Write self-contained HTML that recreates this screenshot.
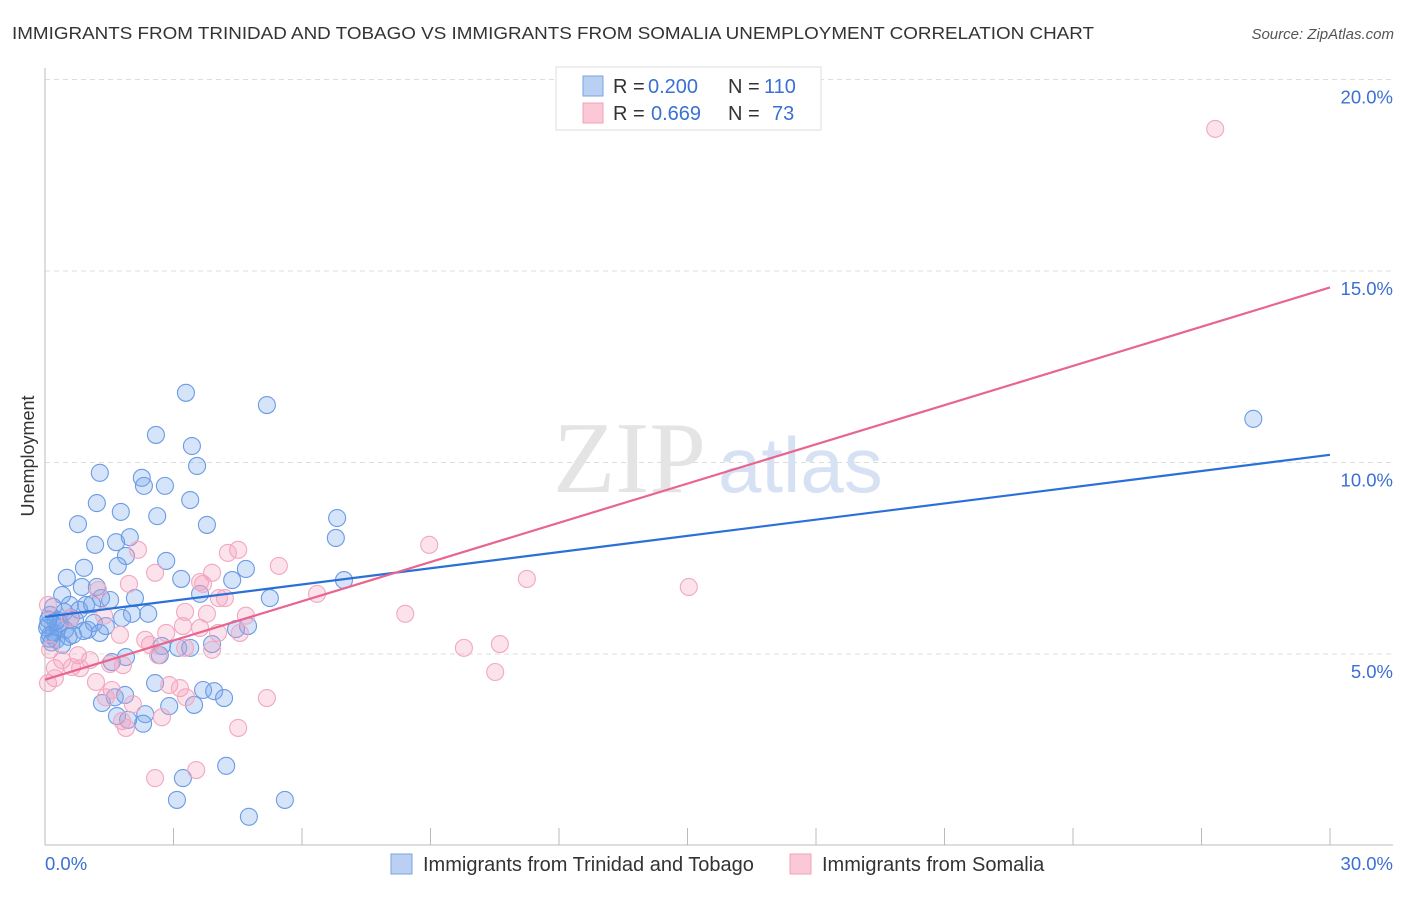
<!DOCTYPE html>
<html><head><meta charset="utf-8"><style>
body{margin:0;background:#fff;font-family:"Liberation Sans",sans-serif;}
</style></head><body>
<svg width="1406" height="892" xmlns="http://www.w3.org/2000/svg" font-family="Liberation Sans, sans-serif">
<text x="12" y="39" font-size="17.5" fill="#333" textLength="1082" lengthAdjust="spacingAndGlyphs">IMMIGRANTS FROM TRINIDAD AND TOBAGO VS IMMIGRANTS FROM SOMALIA UNEMPLOYMENT CORRELATION CHART</text>
<text x="1394" y="39" font-size="15" fill="#555" font-style="italic" text-anchor="end">Source: ZipAtlas.com</text>
<g id="grid"></g>
<text x="553" y="492" font-size="102" fill="#e4e4e4" font-family="Liberation Serif, serif">ZIP</text>
<text x="718" y="492" font-size="78" fill="#d6e2f4">atlas</text>
<text transform="translate(34,456) rotate(-90)" font-size="18" fill="#333" text-anchor="middle">Unemployment</text>
<g id="pts"></g>
<g id="lines"></g>
<g>
<rect x="556" y="67" width="265" height="63" fill="#fff" stroke="#ddd"/>
<rect x="583" y="76" width="20" height="20" fill="#b9d0f3" stroke="#7aa3e6"/>
<rect x="583" y="103" width="20" height="20" fill="#fac8d7" stroke="#f0a0b8"/>
<text x="613" y="93" font-size="20" fill="#333">R =</text>
<text x="648" y="93" font-size="20" fill="#3b6fd4">0.200</text>
<text x="728" y="93" font-size="20" fill="#333">N =</text>
<text x="764" y="93" font-size="20" fill="#3b6fd4">110</text>
<text x="613" y="120" font-size="20" fill="#333">R =</text>
<text x="651" y="120" font-size="20" fill="#3b6fd4">0.669</text>
<text x="728" y="120" font-size="20" fill="#333">N =</text>
<text x="772" y="120" font-size="20" fill="#3b6fd4">73</text>
</g>
<g>
<rect x="391" y="854" width="21" height="20" fill="#b9d0f3" stroke="#7aa3e6"/>
<text x="423" y="871" font-size="20" fill="#333">Immigrants from Trinidad and Tobago</text>
<rect x="790" y="854" width="21" height="20" fill="#fac8d7" stroke="#f0a0b8"/>
<text x="822" y="871" font-size="20" fill="#333">Immigrants from Somalia</text>
</g>
</svg>
<script>
const xTickLabels=["0.0%","30.0%"];
const yTicks=[5,10,15,20];
const blueX=[3.29,5.18,2.59,3.43,3.55,1.28,2.26,2.31,2.80,1.21,3.39,1.77,2.62,0.77,3.78,6.82,6.79,1.17,1.66,1.98,1.89,2.83,0.91,1.70,4.69,0.51,3.18,4.37,6.98,1.21,0.86,0.40,1.31,2.10,3.62,5.25,0.19,0.58,0.96,1.52,2.03,2.41,0.30,0.70,1.14,1.42,1.80,0.47,1.00,0.12,0.26,0.07,0.40,1.28,4.46,4.74,2.73,3.11,3.39,3.90,2.68,1.89,1.56,2.57,1.33,1.63,1.87,3.69,3.95,4.18,3.48,2.90,1.68,2.34,1.94,2.29,4.23,3.22,3.08,4.76,5.60,28.21,0.12,0.05,0.20,0.35,0.10,0.60,0.80,0.15,0.30,0.45,0.25,0.55,0.08,0.90,1.10,0.65];
const blueY=[11.82,11.50,10.72,10.43,9.91,9.73,9.60,9.39,9.39,8.94,9.02,8.71,8.60,8.39,8.37,8.55,8.03,7.85,7.92,8.05,7.56,7.43,7.25,7.30,7.22,6.99,6.96,6.93,6.93,6.75,6.75,6.54,6.46,6.46,6.57,6.46,6.23,6.28,6.28,6.41,6.05,6.05,5.89,5.89,5.81,5.73,5.94,5.63,5.63,5.50,5.37,5.76,5.24,5.55,5.65,5.73,5.21,5.16,5.16,5.26,4.97,4.92,4.79,4.24,3.72,3.87,3.93,4.06,4.03,3.85,3.67,3.64,3.38,3.43,3.28,3.18,2.08,1.76,1.19,0.75,1.19,11.14,6.02,5.68,5.55,5.80,5.40,5.95,6.15,5.30,5.70,6.10,5.85,5.45,5.90,5.60,6.30,5.50];
const pinkX=[27.32,4.51,4.27,2.17,8.97,5.46,2.57,3.90,1.96,3.62,3.69,11.25,15.03,6.35,4.06,4.20,1.24,8.41,3.27,3.78,4.69,0.07,0.58,1.38,3.22,3.62,1.75,2.34,2.83,4.04,4.55,10.62,9.78,2.45,3.27,3.90,2.64,0.77,0.40,1.05,1.52,1.82,0.23,0.63,0.82,10.51,0.23,0.07,1.19,1.56,2.90,3.15,1.42,3.29,5.18,2.05,2.73,1.80,1.89,4.51,2.57,3.53,0.12];
const pinkY=[18.71,7.72,7.64,7.72,7.85,7.30,7.12,7.12,6.83,6.88,6.83,6.96,6.75,6.57,6.46,6.46,6.67,6.05,6.10,6.05,6.00,6.28,5.94,6.00,5.73,5.68,5.50,5.37,5.55,5.55,5.55,5.26,5.16,5.24,5.16,5.11,4.97,4.97,4.84,4.84,4.74,4.71,4.63,4.66,4.63,4.53,4.37,4.24,4.27,4.06,4.19,4.11,3.87,3.87,3.85,3.69,3.35,3.25,3.07,3.07,1.76,1.97,5.11];
const blueTrend=[5.97,10.20];
const pinkTrend=[4.33,14.57];
const NS="http://www.w3.org/2000/svg";
const X0=45,X1=1330,Y0=845.5,PY=38.3;
function sx(v){return X0+v/30*(X1-X0);}
function sy(v){return Y0-v*PY;}
function mk(t,a,p){const e=document.createElementNS(NS,t);for(const k in a)e.setAttribute(k,a[k]);p.appendChild(e);return e;}
const grid=document.getElementById('grid');
yTicks.forEach(t=>{
  const l=mk('line',{x1:45,x2:1393,y1:sy(t),y2:sy(t),stroke:'#ddd','stroke-dasharray':'5,4'},grid);
  
  
  const tx=mk('text',{x:1393,y:sy(t)+24,'font-size':18.5,fill:'#3b6fd4','text-anchor':'end'},grid);
  tx.textContent=t.toFixed(1)+'%';
  
  
});
const ax=mk('line',{x1:45,x2:45,y1:68,y2:845,stroke:'#bbb'},grid);


const bx=mk('line',{x1:45,x2:1393,y1:845,y2:845,stroke:'#bbb'},grid);


for(let i=0;i<=10;i++){const t=mk('line',{x1:sx(i*3),x2:sx(i*3),y1:828,y2:845,stroke:'#bbb'},grid);

}
[[0,'start',45],[30,'end',1393]].forEach((d,i)=>{const t=mk('text',{x:d[2],y:870,'font-size':18.5,fill:'#3b6fd4','text-anchor':d[1]},grid);t.textContent=xTickLabels[i];

});
const pts=document.getElementById('pts');
blueX.forEach((v,i)=>{const c=mk('circle',{cx:sx(v),cy:sy(blueY[i]),r:8.5,fill:'rgba(120,165,235,0.3)',stroke:'#6a9be5','stroke-width':1.1},pts);

});
pinkX.forEach((v,i)=>{const c=mk('circle',{cx:sx(v),cy:sy(pinkY[i]),r:8.5,fill:'rgba(245,160,190,0.3)',stroke:'#f2a8bf','stroke-width':1.1},pts);

});
const lines=document.getElementById('lines');
const bl=mk('line',{x1:sx(0),y1:sy(blueTrend[0]),x2:sx(30),y2:sy(blueTrend[1]),stroke:'#2b6fd8','stroke-width':2.2},lines);


const pl=mk('line',{x1:sx(0),y1:sy(pinkTrend[0]),x2:sx(30),y2:sy(pinkTrend[1]),stroke:'#e8658f','stroke-width':2.2},lines);


</script>
</body></html>
